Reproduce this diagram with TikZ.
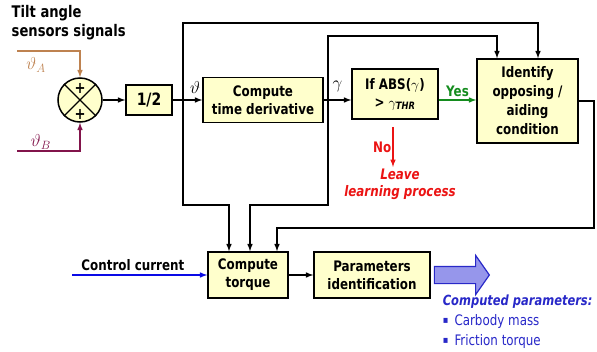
\documentclass[tikz,border=0pt]{standalone}
\usepackage{fontspec}
\setmainfont{DejaVu Sans}[FakeStretch=0.82]
\usepackage{amsmath}
\usetikzlibrary{shapes.arrows}

\definecolor{boxfill}{RGB}{255,255,204}
\definecolor{sigA}{RGB}{190,130,80}
\definecolor{sigB}{RGB}{130,20,75}
\definecolor{yesgreen}{RGB}{20,140,30}
\definecolor{nored}{RGB}{235,20,20}
\definecolor{ctrlblue}{RGB}{10,10,230}
\definecolor{outblue}{RGB}{40,40,200}
\definecolor{outfill}{RGB}{150,150,235}

\begin{document}
\begin{tikzpicture}[x=1pt,y=-1pt,>=latex,line width=1.5pt,
	block/.style={draw=black,fill=boxfill,align=center,inner sep=2pt,font=\fontsize{14.5}{18}\selectfont\bfseries},
	lbl/.style={inner sep=1pt,font=\fontsize{14.5}{18}\selectfont\bfseries},
	sig/.style={inner sep=0pt,font=\fontsize{17}{17}\selectfont},
	bigarrow/.style={single arrow,draw=outblue,fill=outfill,line width=1.2pt,inner sep=0pt,minimum height=55pt,single arrow head extend=11pt,single arrow tip angle=110}]
	\useasboundingbox (0,0) rectangle (597,351);

	\node[lbl,align=left,anchor=north west,font=\fontsize{16}{19}\selectfont\bfseries] (title) at (10,4) {Tilt angle\\sensors signals};

	\node[circle,draw=black,fill=boxfill,minimum size=44pt,inner sep=0pt] (sum) at (80,100) {};
	\draw[line width=1.2pt] (sum.45) -- (sum.225) (sum.135) -- (sum.315);
	\foreach \p/\s in {plusA/12,plusB/-14} {
		\node[inner sep=0pt,font=\fontsize{16}{16}\selectfont\bfseries] (\p) at ([yshift=\s pt]sum.center) {+};
		}

	\node[block,minimum width=46pt,minimum height=30pt,font=\fontsize{17}{20}\selectfont\bfseries] (half) at (149,100) {1/2};
	\node[block,minimum width=120pt,minimum height=45pt] (deriv) at (263,100) {Compute\\time derivative};
	\node[block,minimum width=86pt,minimum height=50pt] (test) at (395,94) {If ABS($\gamma$)\\> $\gamma_{\textit{THR}}$};
	\node[block,minimum width=101pt,minimum height=84pt,font=\fontsize{14.5}{19}\selectfont\bfseries] (ident) at (527.5,101) {Identify\\opposing /\\aiding\\condition};
	\node[block,minimum width=80pt,minimum height=46pt] (torque) at (248,275) {Compute\\torque};
	\node[block,minimum width=116pt,minimum height=46pt] (params) at (372,275) {Parameters\\identification};

	\coordinate (inA) at (17,51);
	\coordinate (inB) at (17,151);
	\draw[->,sigA] (inA) -| (sum.north);
	\draw[->,sigB] (inB) -| (sum.south);
	\node[sig,text=sigA] (thetaA) at (36,65) {$\vartheta_A$};
	\node[sig,text=sigB] (thetaB) at (41,142) {$\vartheta_B$};

	\draw[->] (sum) -- (half);
	\draw[->] (half) -- (deriv);
	\draw[->] (deriv.east) -- (deriv.east -| test.west) node[sig,midway,above=7pt] (gammalab) {$\gamma$};
	\node[sig] (thetalab) at (195,87) {$\vartheta$};

	\coordinate (br1) at (183,100);
	\coordinate (br2) at (328,100);
	\foreach \b/\u/\t/\d in {br1/-77/10.5/-19,br2/-64/-30.5/2} {
		\draw[->] (\b) -- ++(0,\u) -| ([xshift=\t pt]ident.north);
		\draw[->] (\b) -- ++(0,105) -| ([xshift=\d pt]torque.north);
		}
	\draw[->] (ident.east) -- ++(15,0) -- ++(0,127) -| ([xshift=29pt]torque.north);

	\draw[->,yesgreen] (test.east |- deriv.east) -- (ident.west |- deriv.east) node[lbl,midway,above=2pt,text=yesgreen] (yes) {Yes};

	\node[lbl,align=center,text=nored,font=\fontsize{14.5}{17}\selectfont\bfseries\itshape] (leave) at (400,184) {Leave\\learning process};
	\coordinate (nostart) at ([xshift=-2pt,yshift=-7pt]test.south);
	\draw[->,nored] (nostart) -- (nostart |- leave.north) node[lbl,midway,left,text=nored] (no) {No};

	\coordinate (inI) at (72,275);
	\draw[->,ctrlblue] (inI) -- (torque.west) node[lbl,pos=0.45,above=3pt,text=black] (ctrl) {Control current};
	\draw[->] (torque) -- (params);

	\node[bigarrow,anchor=west] (outarrow) at ([xshift=3pt]params.east) {\rule{0pt}{16pt}};
	\node[anchor=north west,align=left,inner sep=0pt,text=outblue,font=\fontsize{14.5}{20}\selectfont] (result) at (442,294) {{\fontsize{14}{20}\selectfont\bfseries\itshape Computed parameters:}\\\raisebox{2pt}{\fontsize{10}{10}\selectfont ▪}\, Carbody mass\\\raisebox{2pt}{\fontsize{10}{10}\selectfont ▪}\, Friction torque};
\end{tikzpicture}
\end{document}
